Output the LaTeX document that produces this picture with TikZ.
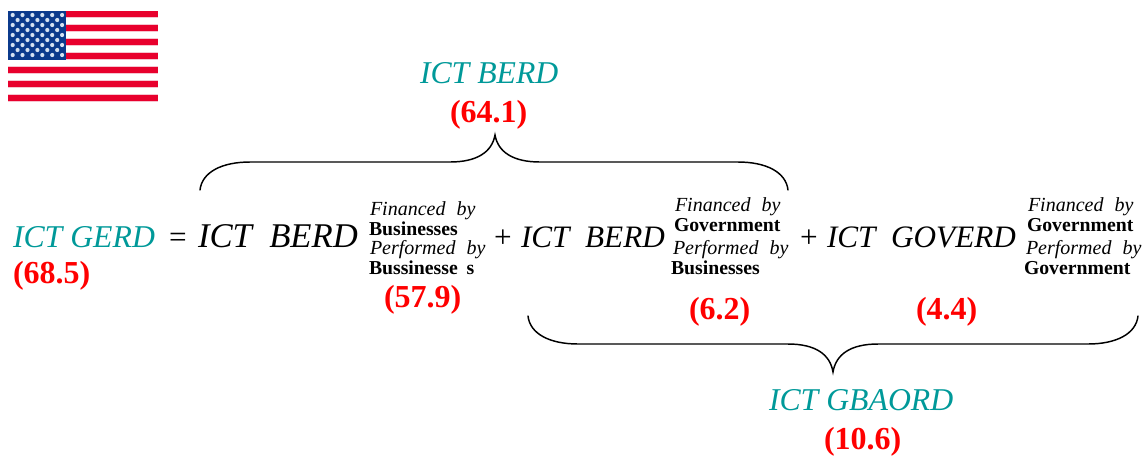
\documentclass[tikz,border=0pt]{standalone}
\usepackage{fontspec}
\setmainfont{Liberation Serif}
\definecolor{tealc}{HTML}{009999}
\definecolor{flagred}{HTML}{E8002D}
\definecolor{flagpink}{HTML}{F6C4D0}
\definecolor{flagblue}{HTML}{0B3A8C}
\definecolor{starc}{HTML}{D5E2F2}
\tikzset{
  txt/.style={anchor=base west,inner sep=0pt,outer sep=0pt},
  teallabel/.style={txt,text=tealc,font=\fontsize{23.8}{26}\selectfont\itshape},
  value/.style={txt,text=red,font=\fontsize{24}{26}\selectfont\bfseries},
  termbig/.style={txt,font=\fontsize{26}{28}\selectfont\itshape},
  termmid/.style={txt,font=\fontsize{23.4}{26}\selectfont\itshape},
  opsign/.style={txt,font=\fontsize{23.4}{26}\selectfont},
  subit/.style={txt,font=\fontsize{15}{18}\selectfont\itshape},
  subbf/.style={txt,font=\fontsize{14.8}{18}\selectfont\bfseries},
  bracket/.style={draw=black,line width=1.1pt,line cap=round}
}
\newcommand{\ws}{\hspace{0.25em}}
\newcommand{\wsb}{\hspace{0.3em}}
\begin{document}
\begin{tikzpicture}[x=0.75pt,y=-0.75pt]
\useasboundingbox (0,0) rectangle (1142,455);
% flag
\foreach \i in {0,2,...,12}{
  \fill[flagpink] (8,{max(11,11+\i*7-0.6)}) rectangle (158,{min(102,11+\i*7+7.2)});
  \fill[flagred] (8,{11+\i*7}) rectangle (158,{11+\i*7+6.2});
}
\fill[flagblue] (8,11) rectangle (66,60);
\foreach \yy in {15,25,35,45,55}
  \foreach \xx in {12.7,22.5,32.4,42.3,52.2,62.1}
    \fill[starc] (\xx,\yy) circle (2.1);
\foreach \yy in {20,30,40,50}
  \foreach \xx in {17.6,27.5,37.4,47.3,57.2}
    \fill[starc] (\xx,\yy) circle (2.1);
% left side
\node[teallabel] (gerd) at (13,247) {ICT GERD};
\node[value] (v685) at (13,283) {(68.5)};
\node[opsign] (eq) at (169,247) {=};
% term 1
\node[termbig] (t1) at (198,247) {ICT\ws\ BERD};
\node[subit] (f1) at (370,215) {Financed\wsb\ by};
\node[subbf] (b1) at (369,235) {Businesses};
\node[subit] (p1) at (370,254) {Performed\wsb\ by};
\node[subbf] (b1b) at (369,274) {Bussinesse\hspace{0.45em}s};
\node[value] (v579) at (384,307) {(57.9)};
\node[opsign] (plus1) at (494,247) {+};
% term 2
\node[termmid] (t2) at (521,247) {ICT\ws\ BERD};
\node[subit] (f2) at (675,211) {Financed\wsb\ by};
\node[subbf] (g2) at (674,231) {Government};
\node[subit] (p2) at (673,254) {Performed\wsb\ by};
\node[subbf] (b2) at (671,274) {Businesses};
\node[value] (v62) at (689,319) {(6.2)};
\node[opsign] (plus2) at (800,247) {+};
% term 3
\node[termmid] (t3) at (827,247) {ICT\ws\ GOVERD};
\node[subit] (f3) at (1028,211) {Financed\wsb\ by};
\node[subbf] (g3) at (1027,231) {Government};
\node[subit] (p3) at (1026,254) {Performed\wsb\ by};
\node[subbf] (g3b) at (1024,274) {Government};
\node[value] (v44) at (916,319) {(4.4)};
% top brace
\node[teallabel] (berd) at (420,83) {ICT BERD};
\node[value] (v641) at (450,122) {(64.1)};
\draw[bracket] (200,190) .. controls (202,172) and (222,162) .. (250,162)
  -- (450,162) .. controls (477,162) and (492,152) .. (495,135)
  .. controls (498,152) and (513,162) .. (540,162)
  -- (738,162) .. controls (766,162) and (786,172) .. (788,190);
% bottom brace
\node[teallabel] (gba) at (769,410) {ICT GBAORD};
\node[value] (v106) at (824,449) {(10.6)};
\draw[bracket] (528,316) .. controls (530,334) and (550,344) .. (578,344)
  -- (788,344) .. controls (815,344) and (830,354) .. (833,372)
  .. controls (836,354) and (851,344) .. (878,344)
  -- (1088,344) .. controls (1116,344) and (1136,334) .. (1138,316);
\end{tikzpicture}
\end{document}
